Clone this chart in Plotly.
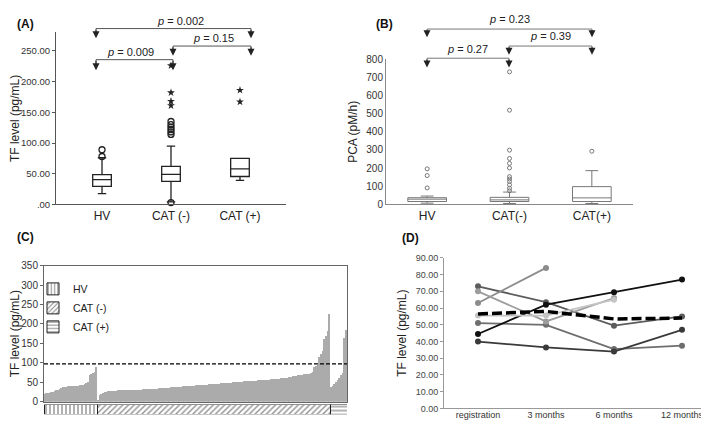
import plotly.graph_objects as go

W, H = 709, 422
FONT = "Liberation Sans, Arial, sans-serif"

# ---------- (A) TF level box plot (SPSS style summary) ----------
a_groups = ["HV", "CAT (-)", "CAT (+)"]
a_q1 = [29.5, 37.5, 45.5]
a_median = [40.5, 49, 58]
a_q3 = [48.5, 62, 75]
a_lower = [17.5, 4, 39]
a_upper = [76, 95, 75]
a_circle_grp = ["HV", "HV", "CAT (-)", "CAT (-)", "CAT (-)", "CAT (-)", "CAT (-)", "CAT (-)", "CAT (-)"]
a_circle_val = [78, 89, 3, 114, 118, 122, 126, 130, 135]
a_star_grp = ["CAT (-)", "CAT (-)", "CAT (-)", "CAT (-)", "CAT (+)", "CAT (+)"]
a_star_val = [161, 168, 182, 226, 167, 186]
a_pvals = ["0.002", "0.15", "0.009"]

# ---------- (B) PCA box plot ----------
b_groups = ["HV", "CAT(-)", "CAT(+)"]
b_q1 = [16, 16, 16]
b_median = [29, 25, 36]
b_q3 = [37, 39, 98]
b_lower = [7, 5, 5]
b_upper = [46, 68, 186]
b_out_grp = ["HV"] * 3 + ["CAT(-)"] * 12 + ["CAT(+)"]
b_out_val = [91, 159, 196,
             75, 89, 108, 126, 140, 153, 201, 226, 253, 299, 519, 730,
             293]
b_pvals = ["0.23", "0.39", "0.27"]

# ---------- (C) individual TF levels ----------
hv_tf = [20, 21, 22, 23, 24, 26, 27, 29, 31, 33, 35, 37, 38, 38, 39, 39,
         40, 40, 40, 41, 41, 42, 43, 44, 45, 47, 50, 68, 72, 75, 77, 88]
cat_neg_tf = [3, 18, 20, 22, 25, 26, 27, 27.5, 28, 28,
              28.5, 28.5, 29, 29, 29, 29.5, 29.5, 29.5, 30, 30,
              30, 30.5, 30.5, 30.5, 31, 31, 31, 31.5, 31.5, 32,
              32, 32.5, 32.5, 33, 33, 33.5, 33.5, 34, 34.5, 35,
              35, 35.5, 36, 36, 36.5, 37, 37, 37.5, 37.5, 38,
              38.5, 39, 39, 39.5, 40, 40.5, 41, 41, 41.5, 42,
              42.5, 43, 43, 43.5, 43.5, 44, 44, 44.5, 45, 45,
              45.5, 46, 46, 46.5, 47, 47.5, 48, 48, 48.5, 49,
              49, 49.5, 50, 50, 50.5, 51, 51, 51.5, 52, 52,
              52.5, 53, 53, 53.5, 53.5, 54, 54.5, 55, 55, 55.5,
              56, 56, 56.5, 57, 57.5, 58, 58, 58.5, 59, 59.5,
              60, 60.5, 61, 61.5, 62, 63, 64, 65, 66, 67,
              68, 68.5, 69, 69.5, 70, 70.5, 71, 72, 74, 77,
              88, 92, 95, 114, 122, 131, 161, 168, 182, 226]
cat_pos_tf = [38, 41, 45, 50, 56, 62, 68, 74, 165, 184]
c_threshold = 97
c_names = ["HV", "CAT (-)", "CAT (+)"]
c_patterns = ["|", "/", "-"]

# ---------- (D) follow-up ----------
d_times = ["registration", "3 months", "6 months", "12 months"]
d_patients = [
    [73, 63.5, 49.5, 55],
    [51, 50, 35.5, 37.5],
    [40, 36.5, 34, 47],
    [44.5, 62, 69.5, 77],
    [63, 84, None, None],
    [70, 52, 66, None],
    [55.5, 55.5, 65, None],
]
d_colors = ["#5c5c5c", "#6e6e6e", "#3a3a3a", "#111111", "#8c8c8c", "#9c9c9c", "#c4c4c4"]
d_mean = [56.5, 58, 53.5, 54]


def px_x(x):
    return x / W


def px_y(y):
    return 1 - y / H


fig = go.Figure()

# (A)
fig.add_trace(go.Box(
    x=a_groups, q1=a_q1, median=a_median, q3=a_q3,
    lowerfence=a_lower, upperfence=a_upper,
    boxpoints=False, width=0.27, whiskerwidth=0.45,
    fillcolor="white", line=dict(color="#222", width=1.3),
    xaxis="x", yaxis="y", showlegend=False, hoverinfo="y"))
fig.add_trace(go.Scatter(
    x=a_circle_grp, y=a_circle_val, mode="markers",
    marker=dict(symbol="circle-open", size=6, color="#222", line=dict(width=1.3)),
    xaxis="x", yaxis="y", showlegend=False, cliponaxis=False))
fig.add_trace(go.Scatter(
    x=a_star_grp, y=a_star_val, mode="markers",
    marker=dict(symbol="star", size=6, color="#222"),
    xaxis="x", yaxis="y", showlegend=False, cliponaxis=False))

# (B)
fig.add_trace(go.Box(
    x=b_groups, q1=b_q1, median=b_median, q3=b_q3,
    lowerfence=b_lower, upperfence=b_upper,
    boxpoints=False, width=0.47, whiskerwidth=0.33,
    fillcolor="white", line=dict(color="#777", width=1),
    xaxis="x2", yaxis="y2", showlegend=False, hoverinfo="y"))
fig.add_trace(go.Scatter(
    x=b_out_grp, y=b_out_val, mode="markers",
    marker=dict(symbol="circle-open", size=4, color="#777", line=dict(width=1)),
    xaxis="x2", yaxis="y2", showlegend=False))

# (C) bars
c_values = hv_tf + cat_neg_tf + cat_pos_tf
fig.add_trace(go.Bar(
    x=list(range(len(c_values))), y=c_values,
    marker=dict(color="#ababab", line=dict(width=0)),
    xaxis="x3", yaxis="y3", showlegend=False))

# (C) group strip with patterns (also feeds the legend)
for name, vals, pat in zip(c_names, [hv_tf, cat_neg_tf, cat_pos_tf], c_patterns):
    fig.add_trace(go.Bar(
        x=[len(vals)], y=[0], orientation="h", width=1, name=name,
        marker=dict(color="white", line=dict(color="#222", width=1),
                    pattern=dict(shape=pat, fgcolor="#222", bgcolor="white",
                                 size=4, solidity=0.35)),
        xaxis="x4", yaxis="y4", showlegend=True))

# (D)
for vals, col in zip(d_patients, d_colors):
    fig.add_trace(go.Scatter(
        x=d_times, y=vals, mode="lines+markers",
        line=dict(color=col, width=1.8), marker=dict(color=col, size=6),
        xaxis="x5", yaxis="y5", showlegend=False))
fig.add_trace(go.Scatter(
    x=d_times, y=d_mean, mode="lines",
    line=dict(color="black", width=3.5, dash="10px,4px"),
    xaxis="x5", yaxis="y5", showlegend=False))

# threshold line in (C)
shapes = [dict(type="line", xref="x3 domain", yref="y3", x0=0, x1=1,
               y0=c_threshold, y1=c_threshold,
               line=dict(color="black", width=1.3, dash="4px,2px"))]
annotations = []


def bracket(x1, x2, ytop, ytip, label, lx, ly, color):
    shapes.append(dict(type="line", xref="paper", yref="paper",
                       x0=px_x(x1), x1=px_x(x2), y0=px_y(ytop), y1=px_y(ytop),
                       line=dict(color=color, width=1)))
    for xx in (x1, x2):
        annotations.append(dict(
            xref="paper", yref="paper", x=px_x(xx), y=px_y(ytip),
            ax=0, ay=-(ytip - ytop), text="", showarrow=True,
            arrowhead=2, arrowsize=1.4, arrowwidth=1, arrowcolor="#222"))
        shapes.append(dict(type="line", xref="paper", yref="paper",
                           x0=px_x(xx), x1=px_x(xx), y0=px_y(ytop), y1=px_y(ytip - 3),
                           line=dict(color=color, width=1)))
    annotations.append(dict(
        xref="paper", yref="paper", x=px_x(lx), y=px_y(ly),
        text="<i>p</i> = " + label, showarrow=False,
        font=dict(size=11, color="#222"), xanchor="center", yanchor="middle"))


bracket(88, 243, 15, 25, a_pvals[0], 172, 7, "#555")
bracket(165, 243, 33, 43, a_pvals[1], 205, 25, "#555")
bracket(88, 165, 47, 58, a_pvals[2], 122, 39, "#555")
bracket(419, 584, 15.5, 24, b_pvals[0], 501, 5, "#777")
bracket(501, 584, 33, 42, b_pvals[1], 542, 23, "#777")
bracket(419, 501, 45.5, 55, b_pvals[2], 459, 36, "#777")

for lab, x, y in [("(A)", 7, 10), ("(B)", 366, 10), ("(C)", 7, 230), ("(D)", 392, 231)]:
    annotations.append(dict(xref="paper", yref="paper", x=px_x(x), y=px_y(y),
                            text="<b>" + lab + "</b>", showarrow=False,
                            xanchor="left", yanchor="middle",
                            font=dict(size=12, color="#111")))

fig.update_layout(
    width=W, height=H, margin=dict(l=0, r=0, t=0, b=0),
    paper_bgcolor="white", plot_bgcolor="white",
    font=dict(family=FONT, color="#222", size=11),
    barmode="stack", bargap=0.12,
    shapes=shapes, annotations=annotations,
    legend=dict(x=px_x(25), y=px_y(268), xanchor="left", yanchor="top",
                traceorder="normal",
                bgcolor="rgba(0,0,0,0)", font=dict(size=10.5, color="#222"),
                tracegroupgap=0, itemclick=False),
    # (A)
    xaxis=dict(domain=[px_x(48), px_x(278)], anchor="y",
               range=[-0.667, 2.667], showline=True, linecolor="#555",
               ticks="", tickfont=dict(size=12, color="#222"), showgrid=False),
    yaxis=dict(domain=[px_y(196), px_y(19)], anchor="x", range=[0, 280],
               showline=True, linecolor="#555", showgrid=False, zeroline=False,
               tickvals=[0, 50, 100, 150, 200, 250],
               ticktext=[".00", "50.00", "100.00", "150.00", "200.00", "250.00"],
               ticks="outside", ticklen=3, tickcolor="#555",
               tickfont=dict(size=9.5, color="#333"),
               title=dict(text="TF level (pg/mL)", font=dict(size=12), standoff=4)),
    # (B)
    xaxis2=dict(domain=[px_x(378), px_x(625)], anchor="y2",
                range=[-0.5, 2.5], showline=True, linecolor="#888",
                ticks="", tickfont=dict(size=12, color="#222"), showgrid=False),
    yaxis2=dict(domain=[px_y(196), px_y(46.5)], anchor="x2", range=[0, 800],
                showline=True, linecolor="#888", showgrid=False, zeroline=False,
                dtick=100, ticks="", tickfont=dict(size=10, color="#333"),
                title=dict(text="PCA (pM/h)", font=dict(size=12), standoff=6)),
    # (C)
    xaxis3=dict(domain=[px_x(36), px_x(339)], anchor="y3",
                range=[-0.5, len(c_values) - 0.5], showline=True, mirror=True,
                linecolor="#666", showticklabels=False, ticks="", showgrid=False,
                zeroline=False),
    yaxis3=dict(domain=[px_y(399), px_y(259)], anchor="x3", range=[0, 350],
                showline=True, mirror=True, linecolor="#666", showgrid=False,
                zeroline=False, dtick=50, ticks="outside", ticklen=3,
                tickcolor="#666", tickfont=dict(size=10, color="#333"),
                title=dict(text="TF level (pg/mL)", font=dict(size=12), standoff=4)),
    xaxis4=dict(domain=[px_x(36), px_x(339)], anchor="y4",
                range=[0, len(c_values)], visible=False),
    yaxis4=dict(domain=[px_y(412), px_y(402)], anchor="x4",
                range=[-0.5, 0.5], visible=False),
    # (D)
    xaxis5=dict(domain=[px_x(436), px_x(708)], anchor="y5",
                range=[-0.5, 3.5], showline=True, linecolor="#999",
                ticks="", tickfont=dict(size=9, color="#333"), showgrid=False,
                ticklabelstandoff=-2),
    yaxis5=dict(domain=[px_y(406), px_y(251)], anchor="x5", range=[0, 90],
                showline=True, linecolor="#999", showgrid=False, zeroline=False,
                dtick=10, tickformat=".2f", ticks="outside", ticklen=3,
                tickcolor="#999", tickfont=dict(size=9, color="#444"),
                title=dict(text="TF level (pg/mL)", font=dict(size=12), standoff=6)),
)

fig.write_html("out.html")
